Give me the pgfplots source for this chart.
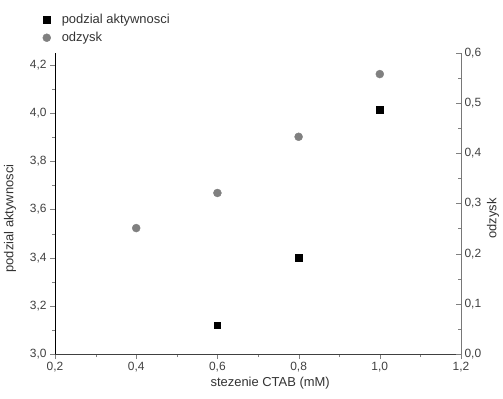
\documentclass[border=0pt]{standalone}
\usepackage{fontspec}
\setmainfont{Liberation Sans}
\usepackage{pgfplots}
\pgfplotsset{compat=1.18}
\definecolor{ptgray}{RGB}{128,128,128}
\definecolor{axgray}{RGB}{120,120,120}
\begin{document}
\begin{tikzpicture}[x=1bp,y=1bp]
\useasboundingbox (-55,-44) rectangle (448,354);
\pgfplotsset{every axis/.append style={
  width=406bp, height=301bp, scale only axis,
  xmin=0.2, xmax=1.2,
  /pgf/number format/assume math mode=true,
  /pgf/number format/use comma,
  /pgf/number format/fixed,
  /pgf/number format/fixed zerofill,
  /pgf/number format/precision=1,
  every tick label/.append style={font=\fontsize{12}{14}\selectfont, text=black!75},
  label style={font=\fontsize{13}{15}\selectfont, text=black!80},
  major tick length=5bp, minor tick length=3bp,
}}
\begin{axis}[
  at={(0,0)}, anchor=south west,
  axis x line=bottom, axis y line=left,
  x axis line style={-, black!75},
  y axis line style={-},
  ymin=3.0, ymax=4.25,
  xtick={0.2,0.4,...,1.2}, minor x tick num=1,
  ytick={3.0,3.2,...,4.2}, minor y tick num=1,
  tick align=outside,
  xlabel={stezenie CTAB (mM)},
  ylabel={podzial aktywnosci},
  xlabel style={at={(axis description cs:0.53,-0.096)}, anchor=center},
  ylabel style={at={(axis description cs:-0.111,0.45)}, anchor=center},
  legend style={at={(axis description cs:-0.038,1.142)}, anchor=north west, draw=none, fill=none,
    font=\fontsize{13}{15}\selectfont, text=black!80, row sep=3bp,
    /tikz/every odd column/.append style={column sep=9bp}},
  legend cell align=left,
]
\addplot[only marks, mark=square*, mark size=3.2bp, black] coordinates {
  (0.6,3.12) (0.8,3.40) (1.0,4.015)
};
\addlegendentry{podzial aktywnosci}
\addlegendimage{only marks, mark=*, mark size=4bp, ptgray, draw=ptgray, fill=ptgray}
\addlegendentry{odzysk}
\end{axis}
\begin{axis}[
  at={(0,0)}, anchor=south west,
  axis x line=none, axis y line*=right,
  ymin=0, ymax=0.6,
  ytick={0,0.1,...,0.6}, minor y tick num=1,
  tick align=inside,
  y axis line style={-, axgray},
  ylabel={odzysk},
  ylabel style={at={(axis description cs:1.079,0.45)}, anchor=center},
]
\addplot[only marks, mark=*, mark size=4bp, ptgray, draw=ptgray, fill=ptgray] coordinates {
  (0.4,0.251) (0.6,0.321) (0.8,0.433) (1.0,0.558)
};
\end{axis}
\end{tikzpicture}
\end{document}
